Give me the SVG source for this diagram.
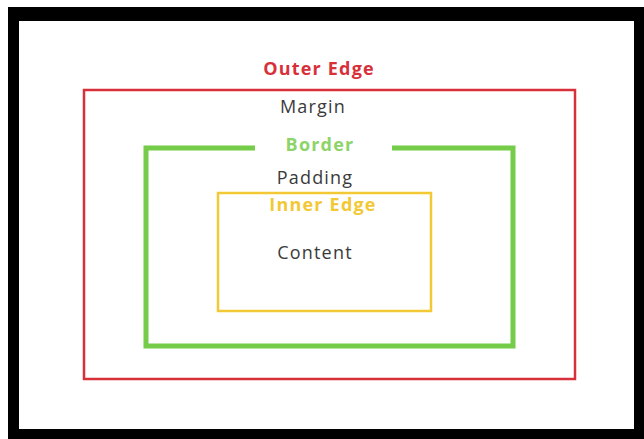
<svg xmlns="http://www.w3.org/2000/svg" width="644" height="439" viewBox="0 0 644 439">
<style>
.lbl{font-family:"Open Sans",Lato,"Liberation Sans",sans-serif;font-size:18px;letter-spacing:1.2px;text-anchor:middle}
.b{font-weight:bold}
.dark{fill:#3a3a3a}
</style>
<rect x="0" y="0" width="644" height="439" fill="#ffffff"/>
<rect x="8" y="7" width="636" height="432" fill="#000"/>
<rect x="19" y="21" width="615" height="408" fill="#ffffff"/>
<g id="outer">
<rect x="84" y="90" width="491" height="289" fill="none" stroke="#d8303a" stroke-width="2.5"/>
<text class="lbl b" x="319" y="75" fill="#d8303a">Outer Edge</text>
</g>
<g id="margin"><text class="lbl dark" x="313" y="113">Margin</text></g>
<g id="border">
<path d="M255 148 H146 V346 H513 V148 H392" fill="none" stroke="#74cc48" stroke-width="5"/>
<text class="lbl b" x="320" y="151" fill="#8dd46a">Border</text>
</g>
<g id="padding"><text class="lbl dark" x="315" y="184">Padding</text></g>
<g id="inner">
<rect x="218" y="193" width="213" height="118" fill="none" stroke="#f2c934" stroke-width="2.5"/>
<text class="lbl b" x="323" y="211" fill="#f2c934">Inner Edge</text>
</g>
<g id="content"><text class="lbl dark" x="315" y="259">Content</text></g>
<g id="connectors"></g>
</svg>
